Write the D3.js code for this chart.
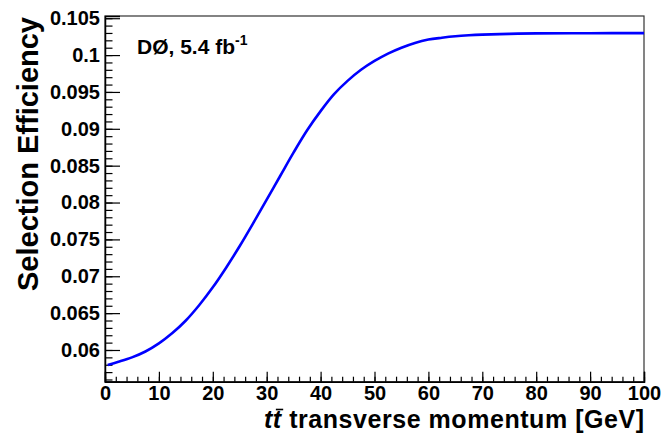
<!DOCTYPE html>
<html>
<head>
<meta charset="utf-8">
<script src="https://cdn.jsdelivr.net/npm/d3@7"></script>
<style>
  html, body { margin: 0; padding: 0; background: #fff; }
  svg { display: block; font-family: "Liberation Sans", Arial, Helvetica, sans-serif; font-weight: bold; }
</style>
</head>
<body>
<svg id="chart" width="663" height="433"></svg>
<script>
// Selection efficiency vs. ttbar transverse momentum
const ptValues = [0.5, 2.5, 5, 7.5, 10, 12.5, 15, 17.5, 20, 22.5, 25, 27.5, 30, 32.5, 35, 37.5, 40, 42.5, 45, 47.5, 50, 52.5, 55, 57.5, 60, 62.5, 65, 67.5, 70, 75, 80, 90, 100];
const efficiencyValues = [0.05797, 0.0584, 0.0590, 0.0598, 0.0609, 0.0623, 0.0640, 0.0661, 0.0685, 0.0712, 0.0741, 0.0772, 0.0804, 0.0836, 0.0868, 0.0898, 0.0924, 0.0947, 0.0965, 0.0980, 0.0992, 0.1002, 0.1010, 0.10165, 0.1021, 0.10235, 0.10255, 0.10268, 0.10277, 0.10288, 0.10294, 0.10297, 0.10298];

const xTickValues = [0, 10, 20, 30, 40, 50, 60, 70, 80, 90, 100];
const yTickValues = [0.06, 0.065, 0.07, 0.075, 0.08, 0.085, 0.09, 0.095, 0.1, 0.105];
const yTickLabels = ["0.06", "0.065", "0.07", "0.075", "0.08", "0.085", "0.09", "0.095", "0.1", "0.105"];
const xDomain = [0, 100];
const yDomain = [0.0557, 0.1053];

const svg = d3.select("#chart");
const plot = { left: 105, right: 644, top: 16, bottom: 381.7 };

const x = d3.scaleLinear().domain(xDomain).range([plot.left, plot.right]);
const y = d3.scaleLinear().domain(yDomain).range([plot.bottom, plot.top]);

// frame
svg.append("rect")
  .attr("x", plot.left).attr("y", plot.top)
  .attr("width", plot.right - plot.left).attr("height", plot.bottom - plot.top)
  .attr("fill", "none").attr("stroke", "#333").attr("stroke-width", 1.2);

// minor ticks
const xMinor = d3.range(0, 100.001, 2);
const yMinor = d3.range(56, 105.5, 1).map(v => v / 1000);

const xMinorAxis = d3.axisBottom(x).tickValues(xMinor).tickSize(-5).tickFormat("");
svg.append("g").attr("transform", `translate(0,${plot.bottom})`).call(xMinorAxis)
  .call(g => g.select(".domain").remove());

const yMinorAxis = d3.axisLeft(y).tickValues(yMinor).tickSize(-7.5).tickFormat("");
svg.append("g").attr("transform", `translate(${plot.left},0)`).call(yMinorAxis)
  .call(g => g.select(".domain").remove());

// major ticks and labels
const xAxis = d3.axisBottom(x).tickValues(xTickValues).tickSize(-10).tickPadding(4).tickFormat(d3.format("d"));
const gx = svg.append("g").attr("transform", `translate(0,${plot.bottom})`).call(xAxis);
gx.select(".domain").attr("stroke", "#000").attr("stroke-width", 1.5);
gx.selectAll("text").attr("font-size", 20).attr("font-weight", "bold").attr("fill", "#000")
  .attr("font-family", "Liberation Sans, Arial, sans-serif");

const yAxis = d3.axisLeft(y).tickValues(yTickValues).tickSize(-15).tickPadding(5)
  .tickFormat((d, i) => yTickLabels[i]);
const gy = svg.append("g").attr("transform", `translate(${plot.left},0)`).call(yAxis);
gy.select(".domain").attr("stroke", "#000").attr("stroke-width", 1.5);
gy.selectAll("text").attr("font-size", 20).attr("font-weight", "bold").attr("fill", "#000")
  .attr("font-family", "Liberation Sans, Arial, sans-serif");

svg.selectAll(".tick line").attr("stroke", "#000").attr("stroke-width", 1.2);

// curve
const pts = ptValues.map((v, i) => [v, efficiencyValues[i]]);
const line = d3.line().x(d => x(d[0])).y(d => y(d[1])).curve(d3.curveCatmullRom.alpha(0.5));
svg.append("path").datum(pts)
  .attr("d", line)
  .attr("fill", "none").attr("stroke", "#0000ff").attr("stroke-width", 2.6)
  .attr("stroke-linejoin", "round");

// axis titles
const xt = svg.append("text")
  .attr("x", plot.right).attr("y", 427.5)
  .attr("text-anchor", "end").attr("font-size", 25)
  .attr("textLength", 380).attr("lengthAdjust", "spacing");
xt.append("tspan").attr("font-style", "italic").text("t");
xt.append("tspan").attr("font-style", "italic").text("t");
xt.append("tspan").text(" transverse momentum [GeV]");

// bar over the second (anti-)top "t"
const barBox = xt.node().getExtentOfChar(1);
svg.append("line")
  .attr("x1", barBox.x + 3).attr("x2", barBox.x + barBox.width + 2)
  .attr("y1", barBox.y + 5).attr("y2", barBox.y + 5)
  .attr("stroke", "#000").attr("stroke-width", 1.6);

svg.append("text")
  .attr("transform", `translate(38,${plot.top + 1}) rotate(-90)`)
  .attr("text-anchor", "end").attr("font-size", 29)
  .text("Selection Efficiency");

// experiment label
const lab = svg.append("text").attr("x", 137).attr("y", 54).attr("font-size", 21);
lab.append("tspan").text("DØ, 5.4 fb");
lab.append("tspan").attr("font-size", 14).attr("dy", -9).text("-1");
</script>
</body>
</html>
